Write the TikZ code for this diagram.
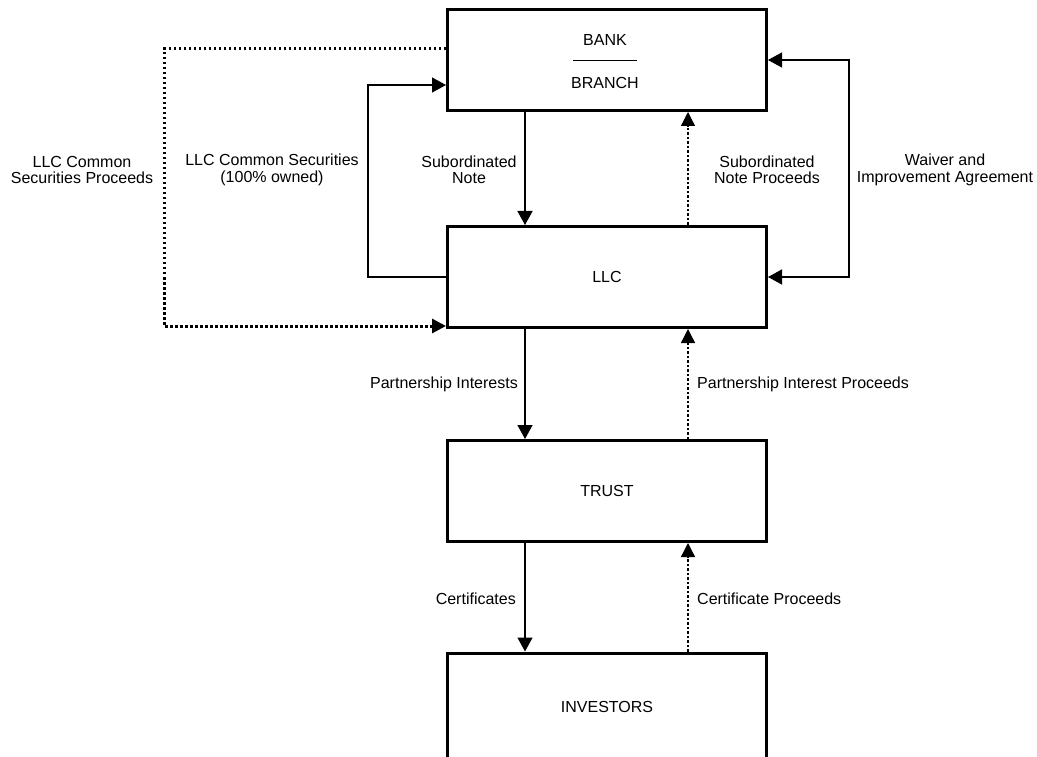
\documentclass[tikz,border=0pt]{standalone}
\usepackage{fontspec}
\setmainfont{Liberation Sans}
\usetikzlibrary{arrows.meta}
\begin{document}
\begin{tikzpicture}[x=1pt,y=-1pt,
  box/.style={draw,line width=3pt,minimum width=319pt,minimum height=101pt,inner sep=0pt,
    font=\fontsize{16}{16.5}\selectfont},
  lbl/.style={align=center,inner sep=0pt,font=\fontsize{16}{16.5}\selectfont},
  tip/.style={},
  arr/.style={line width=1.3pt,-{Triangle[length=14pt,width=15pt]}},
  arrboth/.style={line width=1.3pt,{Triangle[length=14pt,width=15pt]}-{Triangle[length=14pt,width=15pt]}},
  dsh/.style={line width=1.3pt,dash pattern=on 2.5pt off 2pt,-{Triangle[length=14pt,width=14pt]}},
  dots/.style={line width=3pt,dash pattern=on 2.5pt off 2.5pt,-{Triangle[length=14pt,width=14pt]}},
]
\useasboundingbox (0,0) rectangle (1037,757);
\fill[white] (0,0) rectangle (1037,757);

\node[box] (bank) at (607,60) {};
\node[lbl] (banktxt) at (605,40) {BANK};
\node[lbl] (branchtxt) at (605,83) {BRANCH};
\draw[line width=1pt] (573,61) -- (637,61);

\node[box] (llc) at (607,277) {LLC};
\node[box] (trust) at (607,491) {TRUST};
\node[box,minimum height=108pt] (inv) at (607,707) {INVESTORS};

\coordinate (cL) at (525,0);
\coordinate (cR) at (688,0);

% vertical flows
\draw[arr] (bank.south -| cL) -- (llc.north -| cL);
\draw[dsh] (llc.north -| cR) -- (bank.south -| cR);
\draw[arr] (llc.south -| cL) -- (trust.north -| cL);
\draw[dsh] (trust.north -| cR) -- (llc.south -| cR);
\draw[arr] (trust.south -| cL) -- (inv.north -| cL);
\draw[dsh] (inv.north -| cR) -- (trust.south -| cR);

% left loops
\coordinate (sTop) at (368,85);
\draw[arr] (llc.west) -| (sTop) -- (bank.west |- sTop);
\coordinate (dTop) at (164,49);
\coordinate (dBot) at (164,326);
\draw[dots] (bank.west |- dTop) -- (dTop) -- (dBot) -- (llc.west |- dBot);

% right loop
\coordinate (wR) at (849,170);
\draw[arrboth] (bank.east) -| (wR) |- (llc.east);

% labels
\node[lbl] (l1) at (469,170) {Subordinated\\Note};
\node[lbl] (l2) at (767,170) {Subordinated\\Note Proceeds};
\node[lbl] (l3) at (945,170) {Waiver and\\Improvement Agreement};
\node[lbl] (l4) at (82,170) {LLC Common\\Securities Proceeds};
\node[lbl] (l5) at (272,170) {LLC Common Securities\\(100\% owned)};
\node[lbl,anchor=east] (l6) at (518,384) {Partnership Interests};
\node[lbl,anchor=west] (l7) at (697,384) {Partnership Interest Proceeds};
\node[lbl,anchor=east] (l8) at (516,599) {Certificates};
\node[lbl,anchor=west] (l9) at (697,599) {Certificate Proceeds};
\end{tikzpicture}
\end{document}
